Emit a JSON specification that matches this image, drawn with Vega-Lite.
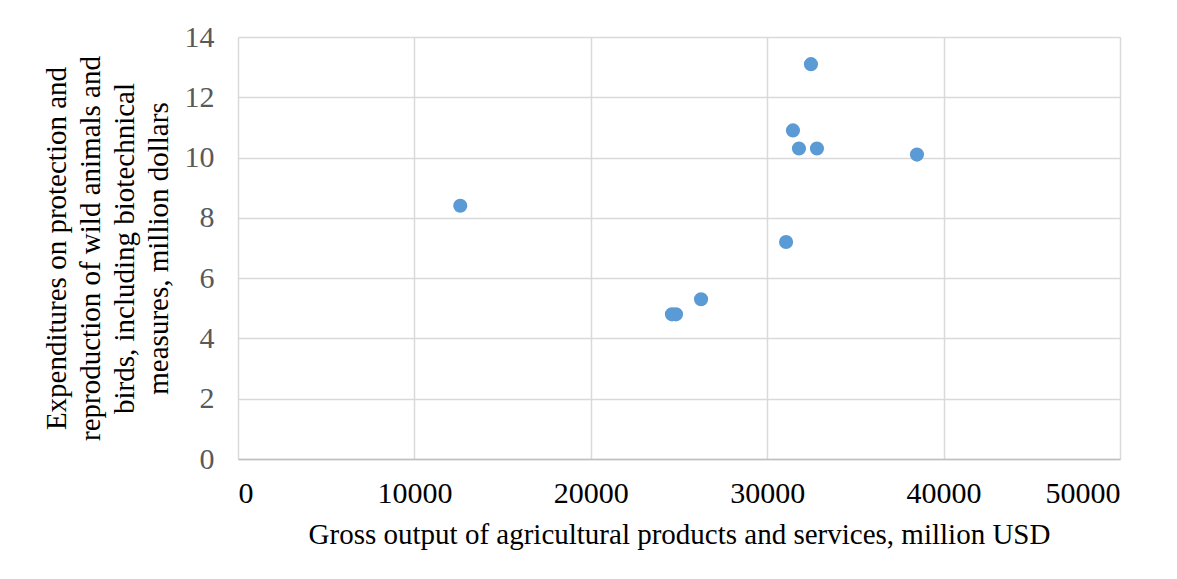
{
  "$schema": "https://vega.github.io/schema/vega-lite/v6.json",
  "autosize": "none",
  "width": 882,
  "height": 422,
  "padding": {"left": 238, "top": 37, "right": 57, "bottom": 120},
  "background": "white",
  "config": {
    "view": {"stroke": null},
    "font": "Liberation Serif"
  },
  "data": {
    "values": [
      {"output": 12600, "expenditure": 8.4},
      {"output": 24600, "expenditure": 4.8},
      {"output": 24830, "expenditure": 4.8},
      {"output": 26250, "expenditure": 5.3},
      {"output": 31070, "expenditure": 7.2},
      {"output": 31460, "expenditure": 10.9},
      {"output": 31800, "expenditure": 10.3},
      {"output": 32480, "expenditure": 13.1},
      {"output": 32820, "expenditure": 10.3},
      {"output": 38490, "expenditure": 10.1}
    ]
  },
  "mark": {"type": "circle", "size": 200, "color": "#5b9bd5", "opacity": 1},
  "encoding": {
    "x": {
      "field": "output",
      "type": "quantitative",
      "scale": {"domain": [0, 50000], "nice": false, "zero": true},
      "axis": {
        "values": [0, 10000, 20000, 30000, 40000, 50000],
        "format": "d",
        "title": "Gross output of agricultural products and services, million USD",
        "titleFont": "Liberation Serif",
        "titleFontSize": 29,
        "titleFontWeight": "normal",
        "titleColor": "#000000",
        "titlePadding": 12,
        "labelFont": "Liberation Serif",
        "labelFontSize": 30,
        "labelColor": "#000000",
        "labelPadding": 19,
        "ticks": false,
        "domain": true,
        "domainColor": "#bfbfbf",
        "domainWidth": 1.5,
        "grid": true,
        "gridColor": "#d9d9d9",
        "gridWidth": 1.5
      }
    },
    "y": {
      "field": "expenditure",
      "type": "quantitative",
      "scale": {"domain": [0, 14], "nice": false},
      "axis": {
        "values": [0, 2, 4, 6, 8, 10, 12, 14],
        "title": ["Expenditures on protection and", "reproduction of wild animals and", "birds, including biotechnical", "measures, million dollars"],
        "titleFont": "Liberation Serif",
        "titleFontSize": 29,
        "titleFontWeight": "normal",
        "titleColor": "#000000",
        "titleLineHeight": 34,
        "titlePadding": 11,
        "labelFont": "Liberation Serif",
        "labelFontSize": 30,
        "labelColor": "#595959",
        "labelPadding": 24,
        "ticks": false,
        "domain": false,
        "grid": true,
        "gridColor": "#d9d9d9",
        "gridWidth": 1.5
      }
    }
  }
}
